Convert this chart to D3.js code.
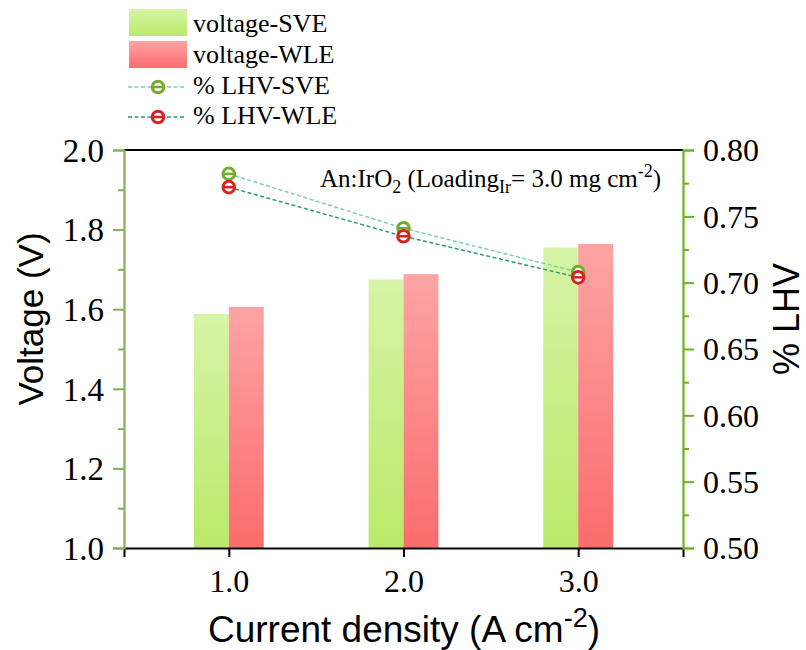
<!DOCTYPE html>
<html>
<head>
<meta charset="utf-8">
<script src="https://cdn.jsdelivr.net/npm/d3@7"></script>
<style>
  html, body { margin: 0; padding: 0; background: #fff; }
  svg { display: block; }
</style>
</head>
<body>
<svg id="chart" width="806" height="650"></svg>
<script>
// Current density (A cm^-2)
const currents = [1.0, 2.0, 3.0];
const currentTicks = [1.0, 2.0, 3.0];
// Cell voltage (V)
const voltageSVE = [1.588, 1.675, 1.755];
const voltageWLE = [1.606, 1.688, 1.764];
// Efficiency (% LHV, fraction)
const lhvSVE = [0.782, 0.741, 0.708];
const lhvWLE = [0.772, 0.735, 0.704];
const voltageTicks = [1.0, 1.2, 1.4, 1.6, 1.8, 2.0];
const lhvTicks = [0.50, 0.55, 0.60, 0.65, 0.70, 0.75, 0.80];

const svg = d3.select("#chart");
const M = { left: 124, right: 683, top: 150, bottom: 548 };
const serif = "'Liberation Serif', 'Times New Roman', serif";
const sans = "'Liberation Sans', Arial, sans-serif";

const x = d3.scaleLinear().domain([0.4, 3.6]).range([M.left, M.right]);
const yV = d3.scaleLinear().domain([1.0, 2.0]).range([M.bottom, M.top]);
const yL = d3.scaleLinear().domain([0.50, 0.80]).range([M.bottom, M.top]);
const barW = 0.2; // in current-density units

// gradients
const defs = svg.append("defs");
function grad(id, top, bottom) {
  const g = defs.append("linearGradient").attr("id", id)
    .attr("x1", 0).attr("y1", 0).attr("x2", 0).attr("y2", 1);
  g.append("stop").attr("offset", "0%").attr("stop-color", top);
  g.append("stop").attr("offset", "100%").attr("stop-color", bottom);
}
grad("gSVE", "#d6f4a6", "#bae96a");
grad("gWLE", "#fda4a4", "#fc6c6c");

// bars
const barData = currents.map((c, i) => ({ c, sve: voltageSVE[i], wle: voltageWLE[i] }));
svg.append("g").selectAll("rect.sve").data(barData).join("rect")
  .attr("x", d => x(d.c - barW))
  .attr("y", d => yV(d.sve))
  .attr("width", d => x(d.c) - x(d.c - barW))
  .attr("height", d => yV(1.0) - yV(d.sve))
  .attr("fill", "url(#gSVE)");
svg.append("g").selectAll("rect.wle").data(barData).join("rect")
  .attr("x", d => x(d.c))
  .attr("y", d => yV(d.wle))
  .attr("width", d => x(d.c + barW) - x(d.c))
  .attr("height", d => yV(1.0) - yV(d.wle))
  .attr("fill", "url(#gWLE)");

// frame: top black line
svg.append("line").attr("x1", M.left).attr("x2", M.right).attr("y1", M.top).attr("y2", M.top)
  .attr("stroke", "#000").attr("stroke-width", 2);

// bottom axis
const xAxis = svg.append("g").attr("transform", `translate(0,${M.bottom})`)
  .call(d3.axisBottom(x).tickValues(currentTicks).tickFormat(d3.format(".1f")).tickSize(9).tickPadding(12));
xAxis.select(".domain").attr("stroke", "#000").attr("stroke-width", 2);
xAxis.selectAll(".tick line").attr("stroke", "#000").attr("stroke-width", 2);
xAxis.selectAll(".tick text").attr("font-family", serif).attr("font-size", 32).attr("fill", "#000");

// left axis (green)
const leftColor = "#86ad5a";
const yAxisL = svg.append("g").attr("transform", `translate(${M.left},0)`)
  .call(d3.axisLeft(yV).tickValues(voltageTicks).tickFormat(d3.format(".1f")).tickSize(11).tickPadding(9));
yAxisL.select(".domain").attr("stroke", leftColor).attr("stroke-width", 2.2);
yAxisL.selectAll(".tick line").attr("stroke", leftColor).attr("stroke-width", 2);
yAxisL.selectAll(".tick text").attr("font-family", serif).attr("font-size", 33).attr("fill", "#000").attr("dy", "0.34em");
svg.append("g").attr("transform", `translate(${M.left},0)`)
  .call(d3.axisLeft(yV).tickValues([1.1, 1.3, 1.5, 1.7, 1.9]).tickSize(6).tickFormat(""))
  .call(g => g.select(".domain").remove())
  .selectAll(".tick line").attr("stroke", leftColor).attr("stroke-width", 2);

// right axis (green)
const rightColor = "#6cb320";
const yAxisR = svg.append("g").attr("transform", `translate(${M.right},0)`)
  .call(d3.axisRight(yL).tickValues(lhvTicks).tickFormat(d3.format(".2f")).tickSize(11).tickPadding(9));
yAxisR.select(".domain").attr("stroke", rightColor).attr("stroke-width", 2.2);
yAxisR.selectAll(".tick line").attr("stroke", rightColor).attr("stroke-width", 2);
yAxisR.selectAll(".tick text").attr("font-family", serif).attr("font-size", 32).attr("fill", "#000").attr("dy", "0.34em");
svg.append("g").attr("transform", `translate(${M.right},0)`)
  .call(d3.axisRight(yL).tickValues([0.525, 0.575, 0.625, 0.675, 0.725, 0.775]).tickSize(6).tickFormat(""))
  .call(g => g.select(".domain").remove())
  .selectAll(".tick line").attr("stroke", rightColor).attr("stroke-width", 2);

// efficiency lines
const lineColSVE = "#7dd0ad", lineColWLE = "#2f9c72";
const mkSVE = "#72ad2c", mkWLE = "#d92323";
function lhvSeries(vals, lineCol) {
  const pts = currents.map((c, i) => [x(c), yL(vals[i])]);
  svg.append("path").attr("d", d3.line()(pts)).attr("fill", "none")
    .attr("stroke", lineCol).attr("stroke-width", 1.5).attr("stroke-dasharray", "4,2.5");
  return pts;
}
function marker(g, cx, cy, col) {
  g.append("circle").attr("cx", cx).attr("cy", cy).attr("r", 5.8)
    .attr("fill", "#fff").attr("stroke", col).attr("stroke-width", 3);
  g.append("line").attr("x1", cx - 5.8).attr("x2", cx + 5.8).attr("y1", cy).attr("y2", cy)
    .attr("stroke", col).attr("stroke-width", 2.6);
}
const ptsSVE = lhvSeries(lhvSVE, lineColSVE);
const ptsWLE = lhvSeries(lhvWLE, lineColWLE);
const mg = svg.append("g");
ptsSVE.forEach(p => marker(mg, p[0], p[1], mkSVE));
ptsWLE.forEach(p => marker(mg, p[0], p[1], mkWLE));

// annotation
const ann = svg.append("text").attr("x", 320).attr("y", 187)
  .attr("font-family", serif).attr("font-size", 25).attr("fill", "#000");
ann.append("tspan").text("An:IrO");
ann.append("tspan").attr("font-size", 18).attr("dy", 6).text("2");
ann.append("tspan").attr("dy", -6).text(" (Loading");
ann.append("tspan").attr("font-size", 18).attr("dy", 6).text("Ir");
ann.append("tspan").attr("dy", -6).text("= 3.0 mg cm");
ann.append("tspan").attr("font-size", 18).attr("dy", -10).text("-2");
ann.append("tspan").attr("dy", 10).text(")");

// axis titles
const xt = svg.append("text").attr("x", 404).attr("y", 642).attr("text-anchor", "middle")
  .attr("font-family", sans).attr("font-size", 37).attr("fill", "#000");
xt.append("tspan").text("Current density (A cm");
xt.append("tspan").attr("font-size", 27).attr("dy", -15).text("-2");
xt.append("tspan").attr("dy", 15).text(")");

svg.append("text").attr("transform", "translate(43,319) rotate(-90)").attr("text-anchor", "middle")
  .attr("font-family", sans).attr("font-size", 35).attr("fill", "#000").text("Voltage (V)");
svg.append("text").attr("transform", "translate(799,319) rotate(-90)").attr("text-anchor", "middle")
  .attr("font-family", sans).attr("font-size", 36).attr("fill", "#000").text("% LHV");

// legend
const lg = svg.append("g");
const legendItems = [
  { type: "bar", fill: "url(#gSVE)", label: "voltage-SVE", y: 9, base: 32 },
  { type: "bar", fill: "url(#gWLE)", label: "voltage-WLE", y: 41, base: 63 },
  { type: "line", stroke: lineColSVE, mk: mkSVE, label: "% LHV-SVE", y: 87, base: 94 },
  { type: "line", stroke: lineColWLE, mk: mkWLE, label: "% LHV-WLE", y: 117, base: 124 }
];
legendItems.forEach(it => {
  if (it.type === "bar") {
    lg.append("rect").attr("x", 129).attr("y", it.y).attr("width", 58).attr("height", 27).attr("fill", it.fill);
  } else {
    lg.append("line").attr("x1", 128).attr("x2", 186).attr("y1", it.y).attr("y2", it.y)
      .attr("stroke", it.stroke).attr("stroke-width", 1.5).attr("stroke-dasharray", "4,2.5");
    marker(lg, 158, it.y, it.mk);
  }
  lg.append("text").attr("x", 193).attr("y", it.base).attr("font-family", serif)
    .attr("font-size", 26).attr("fill", "#000").text(it.label);
});
</script>
</body>
</html>
